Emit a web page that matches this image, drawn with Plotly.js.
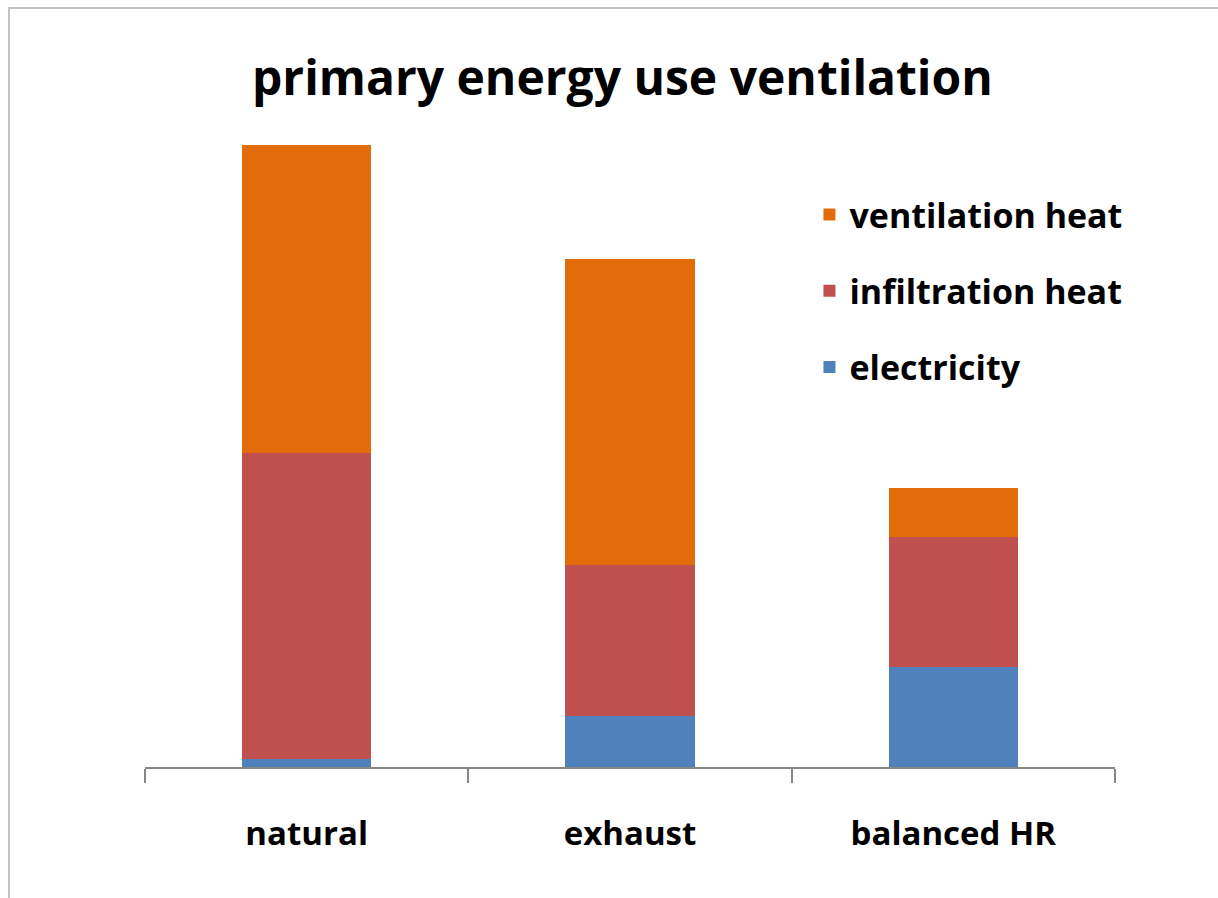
<!DOCTYPE html>
<html>
<head>
<meta charset="utf-8">
<script src="https://cdn.plot.ly/plotly-3.0.1.min.js"></script>
<style>
  html, body { margin: 0; padding: 0; background: #ffffff; }
  #wrap { position: relative; width: 1218px; height: 898px; }
  #chart { width: 1218px; height: 898px; }
  #frame { position: absolute; left: 8px; top: 7px; right: -2px; bottom: -2px;
           border-left: 2px solid #c4c4c4; border-top: 2px solid #c4c4c4; pointer-events: none; }
</style>
</head>
<body>
<div id="wrap">
  <div id="chart"></div>
  <div id="frame"></div>
</div>
<script>
const categories = ["natural", "exhaust", "balanced HR"];
const electricity = [0.8, 5.1, 10.0];
const infiltrationHeat = [30.6, 15.1, 13.0];
const ventilationHeat = [30.8, 30.6, 4.9];

const seriesNames = ["electricity", "infiltration heat", "ventilation heat"];
const seriesColors = ["#4f81bd", "#c0504d", "#e36c0a"];
const seriesValues = [electricity, infiltrationHeat, ventilationHeat];

const font = "'Open Sans', 'Noto Sans', sans-serif";

const traces = seriesValues.map((vals, i) => ({
  type: "bar",
  name: seriesNames[i],
  x: categories,
  y: vals,
  marker: { color: seriesColors[i], line: { width: 0 } },
  legendgroup: "g" + i,
  legendrank: 1000 - i * 10,
  hoverinfo: "x+y+name"
}));

const layout = {
  width: 1218,
  height: 898,
  paper_bgcolor: "#ffffff",
  plot_bgcolor: "#ffffff",
  barmode: "stack",
  bargap: 0.6,
  margin: { l: 145, r: 103, t: 67, b: 131 },
  title: {
    text: "<b>primary energy use ventilation</b>",
    font: { family: font, size: 48, color: "#000000" },
    x: 0.511, xanchor: "center",
    y: 0.913, yanchor: "middle"
  },
  xaxis: {
    type: "category",
    showline: true,
    linecolor: "#868686",
    linewidth: 2,
    ticks: "outside",
    tickson: "boundaries",
    ticklen: 14,
    tickwidth: 2,
    tickcolor: "#868686",
    ticklabelstandoff: 36,
    tickfont: { family: font, size: 33, color: "#000000", weight: "bold" },
    showgrid: false,
    zeroline: false
  },
  yaxis: {
    range: [0, 70],
    visible: false,
    showgrid: false,
    zeroline: false
  },
  showlegend: true,
  legend: {
    x: 0.685, xanchor: "left",
    y: 0.83, yanchor: "top",
    traceorder: "grouped",
    tracegroupgap: 29,
    font: { family: font, size: 34, color: "#000000", weight: "bold" },
    bgcolor: "rgba(0,0,0,0)",
    itemwidth: 30
  }
};

Plotly.newPlot("chart", traces, layout, { displayModeBar: false, staticPlot: true });
</script>
</body>
</html>
